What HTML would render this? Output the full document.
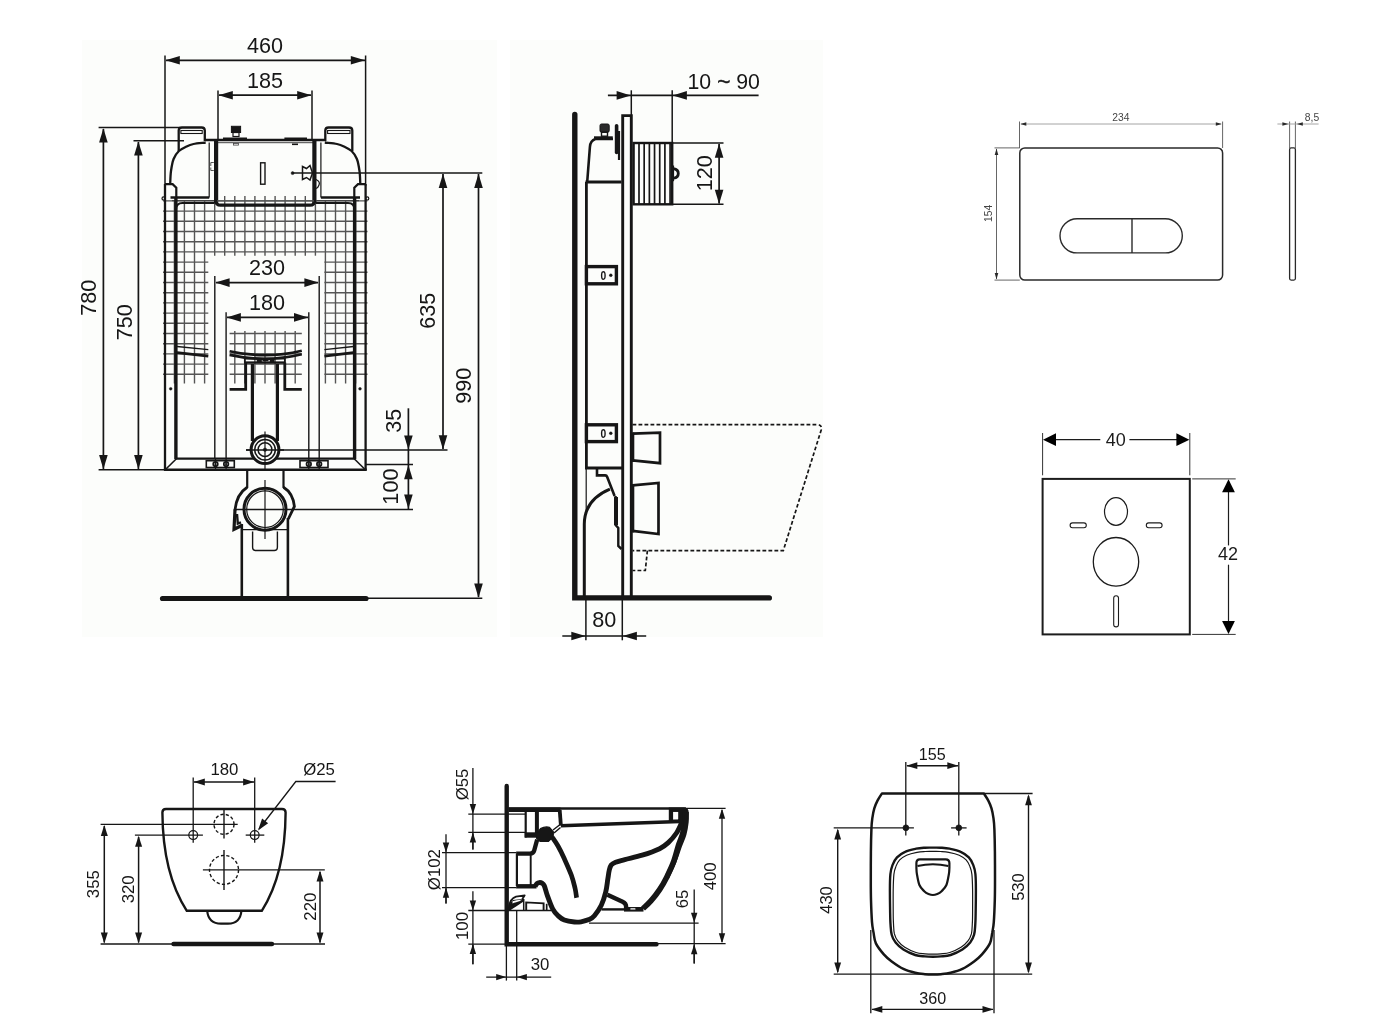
<!DOCTYPE html>
<html><head><meta charset="utf-8"><title>Technical drawing</title>
<style>
html,body{margin:0;padding:0;background:#fff;}
svg{display:block;font-family:"Liberation Sans",sans-serif;will-change:transform;}
</style></head><body>
<svg width="1400" height="1034" viewBox="0 0 1400 1034">
<rect x="0" y="0" width="1400" height="1034" fill="#ffffff"/>
<rect x="82" y="40" width="415" height="597" fill="#fcfdfb"/>
<rect x="510" y="40" width="313" height="597" fill="#fcfdfb"/>
<g stroke="#555" stroke-width="1.4" fill="none">
<path d="M174.4,200V383.5"/>
<path d="M184.4,200V383.5"/>
<path d="M194.5,200V383.5"/>
<path d="M204.6,200V383.5"/>
<path d="M214.7,200V255.7"/>
<path d="M224.7,196V255.7"/>
<path d="M234.8,196V255.7"/>
<path d="M234.8,331V383.5"/>
<path d="M244.9,196V255.7"/>
<path d="M244.9,331V383.5"/>
<path d="M254.9,196V255.7"/>
<path d="M254.9,331V383.5"/>
<path d="M265.0,196V255.7"/>
<path d="M265.0,331V383.5"/>
<path d="M275.1,196V255.7"/>
<path d="M275.1,331V383.5"/>
<path d="M285.1,196V255.7"/>
<path d="M285.1,331V383.5"/>
<path d="M295.2,196V255.7"/>
<path d="M295.2,331V383.5"/>
<path d="M305.3,196V255.7"/>
<path d="M315.4,200V255.7"/>
<path d="M325.4,200V383.5"/>
<path d="M335.5,200V383.5"/>
<path d="M345.6,200V383.5"/>
<path d="M355.6,200V383.5"/>
<path d="M163,200.9H367.5"/>
<path d="M163,211.1H367.5"/>
<path d="M163,221.3H367.5"/>
<path d="M163,231.5H367.5"/>
<path d="M163,241.7H367.5"/>
<path d="M163,251.9H367.5"/>
<path d="M163,262.1H208.3"/>
<path d="M324.4,262.1H367.5"/>
<path d="M163,272.3H208.3"/>
<path d="M324.4,272.3H367.5"/>
<path d="M163,282.5H208.3"/>
<path d="M324.4,282.5H367.5"/>
<path d="M163,292.7H208.3"/>
<path d="M324.4,292.7H367.5"/>
<path d="M163,302.9H208.3"/>
<path d="M324.4,302.9H367.5"/>
<path d="M163,313.1H208.3"/>
<path d="M324.4,313.1H367.5"/>
<path d="M163,323.3H208.3"/>
<path d="M324.4,323.3H367.5"/>
<path d="M163,333.5H208.3"/>
<path d="M324.4,333.5H367.5"/>
<path d="M229.6,333.5H301.8"/>
<path d="M163,343.7H208.3"/>
<path d="M324.4,343.7H367.5"/>
<path d="M229.6,343.7H301.8"/>
<path d="M163,353.9H208.3"/>
<path d="M324.4,353.9H367.5"/>
<path d="M229.6,353.9H301.8"/>
<path d="M163,364.1H208.3"/>
<path d="M324.4,364.1H367.5"/>
<path d="M229.6,364.1H301.8"/>
<path d="M163,374.3H208.3"/>
<path d="M324.4,374.3H367.5"/>
<path d="M229.6,374.3H301.8"/>
</g>
<line x1="165" y1="55.5" x2="165" y2="186" stroke="#161616" stroke-width="1.5" />
<line x1="365.6" y1="55.5" x2="365.6" y2="186" stroke="#161616" stroke-width="1.5" />
<line x1="166" y1="60.3" x2="365" y2="60.3" stroke="#161616" stroke-width="1.7" />
<polygon points="165.6,60.3 179.8,56.0 179.8,64.6" fill="#161616"/>
<polygon points="365.0,60.3 350.8,56.0 350.8,64.6" fill="#161616"/>
<text x="265" y="53.2" font-size="21.6" text-anchor="middle" fill="#161616" >460</text>
<line x1="218" y1="90.6" x2="218" y2="141" stroke="#161616" stroke-width="1.5" />
<line x1="312" y1="90.6" x2="312" y2="141" stroke="#161616" stroke-width="1.5" />
<line x1="219" y1="95.2" x2="311" y2="95.2" stroke="#161616" stroke-width="1.7" />
<polygon points="218.6,95.2 232.8,90.9 232.8,99.5" fill="#161616"/>
<polygon points="311.4,95.2 297.2,90.9 297.2,99.5" fill="#161616"/>
<text x="265" y="87.9" font-size="21.6" text-anchor="middle" fill="#161616" >185</text>
<line x1="98.6" y1="127.6" x2="180" y2="127.6" stroke="#161616" stroke-width="1.5" />
<line x1="133.5" y1="140.8" x2="184" y2="140.8" stroke="#161616" stroke-width="1.5" />
<line x1="103.4" y1="129" x2="103.4" y2="469" stroke="#161616" stroke-width="1.7" />
<polygon points="103.4,128.2 99.1,142.4 107.7,142.4" fill="#161616"/>
<polygon points="103.4,469.2 99.1,455.0 107.7,455.0" fill="#161616"/>
<line x1="138.4" y1="142" x2="138.4" y2="469" stroke="#161616" stroke-width="1.7" />
<polygon points="138.4,141.4 134.1,155.6 142.7,155.6" fill="#161616"/>
<polygon points="138.4,469.2 134.1,455.0 142.7,455.0" fill="#161616"/>
<line x1="98.6" y1="469.8" x2="166" y2="469.8" stroke="#161616" stroke-width="1.5" />
<text x="96.4" y="297.7" font-size="21.6" text-anchor="middle" fill="#161616" transform="rotate(-90 96.4 297.7)" >780</text>
<text x="131.6" y="322.3" font-size="21.6" text-anchor="middle" fill="#161616" transform="rotate(-90 131.6 322.3)" >750</text>
<line x1="292.6" y1="173.1" x2="482.3" y2="173.1" stroke="#161616" stroke-width="1.5" />
<circle cx="292.6" cy="173.1" r="1.5" stroke="#161616" stroke-width="0.5" fill="#161616" />
<line x1="443" y1="174" x2="443" y2="449" stroke="#161616" stroke-width="1.7" />
<polygon points="443.0,173.7 438.7,187.9 447.3,187.9" fill="#161616"/>
<polygon points="443.0,449.4 438.7,435.2 447.3,435.2" fill="#161616"/>
<line x1="478.5" y1="174" x2="478.5" y2="597" stroke="#161616" stroke-width="1.7" />
<polygon points="478.5,173.7 474.2,187.9 482.8,187.9" fill="#161616"/>
<polygon points="478.5,597.7 474.2,583.5 482.8,583.5" fill="#161616"/>
<text x="435.5" y="310.8" font-size="21.6" text-anchor="middle" fill="#161616" transform="rotate(-90 435.5 310.8)" >635</text>
<text x="471" y="385.7" font-size="21.6" text-anchor="middle" fill="#161616" transform="rotate(-90 471 385.7)" >990</text>
<line x1="246" y1="450" x2="447.5" y2="450" stroke="#161616" stroke-width="1.5" />
<line x1="366" y1="598.3" x2="482.3" y2="598.3" stroke="#161616" stroke-width="1.5" />
<line x1="408.4" y1="408.3" x2="408.4" y2="509.4" stroke="#161616" stroke-width="1.7" />
<polygon points="408.4,449.6 404.1,435.4 412.7,435.4" fill="#161616"/>
<polygon points="408.4,465.0 404.1,479.2 412.7,479.2" fill="#161616"/>
<polygon points="408.4,508.8 404.1,494.6 412.7,494.6" fill="#161616"/>
<line x1="366" y1="464.4" x2="413" y2="464.4" stroke="#161616" stroke-width="1.5" />
<line x1="234.8" y1="509.4" x2="413" y2="509.4" stroke="#161616" stroke-width="1.5" />
<text x="400.6" y="420.7" font-size="21.6" text-anchor="middle" fill="#161616" transform="rotate(-90 400.6 420.7)" >35</text>
<text x="398.2" y="486.6" font-size="21.6" text-anchor="middle" fill="#161616" transform="rotate(-90 398.2 486.6)" >100</text>
<path d="M178.7,151V130.6Q178.7,127.5 181.9,127.5H201.6Q204.8,127.5 204.8,130.6V141" stroke="#161616" stroke-width="2.3" fill="none" />
<rect x="180.9" y="130.5" width="21.3" height="3" rx="0" stroke="#161616" stroke-width="1.1" fill="none" />
<path d="M352.3,151V130.6Q352.3,127.5 349.1,127.5H328.5Q325.3,127.5 325.3,130.6V141" stroke="#161616" stroke-width="2.3" fill="none" />
<rect x="327.6" y="130.5" width="22.4" height="3" rx="0" stroke="#161616" stroke-width="1.1" fill="none" />
<line x1="205" y1="140" x2="326" y2="140" stroke="#161616" stroke-width="2.3" />
<line x1="216" y1="142.7" x2="314" y2="142.7" stroke="#444" stroke-width="1.0" />
<line x1="284.4" y1="138.6" x2="307" y2="138.6" stroke="#161616" stroke-width="2.2" />
<line x1="292" y1="144.3" x2="298" y2="144.3" stroke="#161616" stroke-width="1.6" />
<path d="M205.7,142.5C203.7,142.8 196.7,143.3 193.5,144.0C190.3,144.7 189.0,145.3 186.6,146.5C184.2,147.7 181.1,148.9 178.9,151.0C176.7,153.1 174.9,155.7 173.6,159.0C172.3,162.3 171.6,166.8 171.0,171.0C170.4,175.2 170.3,181.8 170.2,184.0" stroke="#161616" stroke-width="2.3" fill="none" />
<path d="M324.8,142.5C326.8,142.8 333.8,143.3 337.0,144.0C340.2,144.7 341.5,145.3 343.9,146.5C346.3,147.7 349.4,148.9 351.6,151.0C353.8,153.1 355.6,155.7 356.9,159.0C358.2,162.3 358.9,166.8 359.5,171.0C360.1,175.2 360.2,181.8 360.3,184.0" stroke="#161616" stroke-width="2.3" fill="none" />
<path d="M165,184.2H172.6L176.3,187.8V197" stroke="#161616" stroke-width="2.2" fill="none" />
<path d="M365.6,184.2H358L354.3,187.8V197" stroke="#161616" stroke-width="2.2" fill="none" />
<line x1="170.5" y1="197.5" x2="209.2" y2="197.5" stroke="#161616" stroke-width="2.4" />
<line x1="320.9" y1="197.5" x2="360" y2="197.5" stroke="#161616" stroke-width="2.4" />
<circle cx="163.6" cy="198.4" r="1.6" stroke="#161616" stroke-width="1.2" fill="none" />
<circle cx="367.2" cy="198.4" r="1.6" stroke="#161616" stroke-width="1.2" fill="none" />
<line x1="209.2" y1="142.5" x2="209.2" y2="197.5" stroke="#161616" stroke-width="1.2" />
<line x1="320.9" y1="142.5" x2="320.9" y2="197.5" stroke="#161616" stroke-width="1.2" />
<line x1="216.1" y1="140" x2="216.1" y2="203" stroke="#161616" stroke-width="4.2" />
<line x1="314.4" y1="140" x2="314.4" y2="203" stroke="#161616" stroke-width="4.2" />
<path d="M216.1,201Q216.1,205.2 220.5,205.2H310Q314.4,205.2 314.4,201" stroke="#161616" stroke-width="3.2" fill="none" />
<line x1="217" y1="200.9" x2="314" y2="200.9" stroke="#555" stroke-width="1.2" />
<path d="M175.9,210Q175.9,203 182.5,203H214.5" stroke="#161616" stroke-width="2.2" fill="none" />
<path d="M354.6,210Q354.6,203 348,203H316" stroke="#161616" stroke-width="2.2" fill="none" />
<line x1="172" y1="200.6" x2="214" y2="200.6" stroke="#444" stroke-width="1.2" />
<line x1="316" y1="200.6" x2="359" y2="200.6" stroke="#444" stroke-width="1.2" />
<line x1="165" y1="184" x2="165" y2="470" stroke="#161616" stroke-width="2.3" />
<line x1="365.6" y1="184" x2="365.6" y2="470" stroke="#161616" stroke-width="2.3" />
<line x1="175.9" y1="197" x2="175.9" y2="459" stroke="#161616" stroke-width="3.4" />
<line x1="354.6" y1="197" x2="354.6" y2="459" stroke="#161616" stroke-width="3.4" />
<line x1="175" y1="458.7" x2="355.5" y2="458.7" stroke="#161616" stroke-width="2.3" />
<line x1="163.9" y1="469.8" x2="366.8" y2="469.8" stroke="#161616" stroke-width="2.6" />
<line x1="176.4" y1="458.7" x2="166" y2="469" stroke="#161616" stroke-width="1.6" />
<line x1="354.2" y1="458.7" x2="364.6" y2="469" stroke="#161616" stroke-width="1.6" />
<rect x="206.3" y="460.7" width="28" height="6.8" rx="0" stroke="#161616" stroke-width="1.6" fill="none" />
<circle cx="215.5" cy="464.1" r="2.3" stroke="#161616" stroke-width="1.7" fill="none" />
<circle cx="215.5" cy="464.1" r="0.9" stroke="#161616" stroke-width="0.4" fill="#161616" />
<line x1="215.5" y1="459" x2="215.5" y2="471" stroke="#161616" stroke-width="1.2" />
<circle cx="226.1" cy="464.1" r="2.3" stroke="#161616" stroke-width="1.7" fill="none" />
<circle cx="226.1" cy="464.1" r="0.9" stroke="#161616" stroke-width="0.4" fill="#161616" />
<line x1="226.1" y1="459" x2="226.1" y2="471" stroke="#161616" stroke-width="1.2" />
<rect x="300" y="460.7" width="28" height="6.8" rx="0" stroke="#161616" stroke-width="1.6" fill="none" />
<circle cx="308.8" cy="464.1" r="2.3" stroke="#161616" stroke-width="1.7" fill="none" />
<circle cx="308.8" cy="464.1" r="0.9" stroke="#161616" stroke-width="0.4" fill="#161616" />
<line x1="308.8" y1="459" x2="308.8" y2="471" stroke="#161616" stroke-width="1.2" />
<circle cx="319.2" cy="464.1" r="2.3" stroke="#161616" stroke-width="1.7" fill="none" />
<circle cx="319.2" cy="464.1" r="0.9" stroke="#161616" stroke-width="0.4" fill="#161616" />
<line x1="319.2" y1="459" x2="319.2" y2="471" stroke="#161616" stroke-width="1.2" />
<line x1="214.8" y1="276.1" x2="214.8" y2="459" stroke="#161616" stroke-width="1.4" />
<line x1="319.2" y1="276.1" x2="319.2" y2="459" stroke="#161616" stroke-width="1.4" />
<line x1="226.1" y1="312.2" x2="226.1" y2="459" stroke="#161616" stroke-width="1.4" />
<line x1="308.8" y1="312.2" x2="308.8" y2="459" stroke="#161616" stroke-width="1.4" />
<line x1="216" y1="282.6" x2="318" y2="282.6" stroke="#161616" stroke-width="1.7" />
<polygon points="215.4,282.6 229.6,278.3 229.6,286.9" fill="#161616"/>
<polygon points="318.6,282.6 304.4,278.3 304.4,286.9" fill="#161616"/>
<line x1="227" y1="317.4" x2="308" y2="317.4" stroke="#161616" stroke-width="1.7" />
<polygon points="226.7,317.4 240.9,313.1 240.9,321.7" fill="#161616"/>
<polygon points="308.2,317.4 294.0,313.1 294.0,321.7" fill="#161616"/>
<text x="267" y="274.5" font-size="21.6" text-anchor="middle" fill="#161616" >230</text>
<text x="267" y="309.8" font-size="21.6" text-anchor="middle" fill="#161616" >180</text>
<rect x="260.6" y="162.8" width="4.4" height="21.4" rx="0" stroke="#161616" stroke-width="1.4" fill="none" />
<rect x="231.4" y="126.3" width="9.2" height="6.2" rx="0" stroke="#161616" stroke-width="1.0" fill="#161616" />
<rect x="233" y="132.5" width="6" height="4" rx="0" stroke="#161616" stroke-width="1.2" fill="none" />
<line x1="223" y1="138.6" x2="247" y2="138.6" stroke="#161616" stroke-width="2.2" />
<rect x="233.5" y="143.5" width="5" height="1.6" rx="0" stroke="#444" stroke-width="0.8" fill="none" />
<path d="M302.5,166.5L306.5,168.5L310,165.5L312.5,173L310,180L306.5,177.5L302.5,179.5Z" stroke="#161616" stroke-width="1.5" fill="none" />
<path d="M316,179.5Q320.5,181.5 319,185Q318,188 316,188.5" stroke="#161616" stroke-width="1.2" fill="none" />
<path d="M213.8,162.5H210.8V166M213.8,170.5H210.8V167.5" stroke="#555" stroke-width="1.0" fill="none" />
<line x1="177" y1="346.5" x2="208.3" y2="349.6" stroke="#161616" stroke-width="1.4" />
<line x1="177" y1="352.6" x2="208.3" y2="356.1" stroke="#161616" stroke-width="2.6" />
<line x1="353.5" y1="346.5" x2="324.4" y2="349.6" stroke="#161616" stroke-width="1.4" />
<line x1="353.5" y1="352.6" x2="324.4" y2="356.1" stroke="#161616" stroke-width="2.6" />
<circle cx="170.7" cy="388.8" r="1.4" stroke="#161616" stroke-width="0.4" fill="#161616" />
<circle cx="360" cy="388.8" r="1.4" stroke="#161616" stroke-width="0.4" fill="#161616" />
<path d="M229.6,351.2Q265.5,359.4 301.8,350.7" stroke="#161616" stroke-width="2.7" fill="none" />
<path d="M229.6,354.9Q265.5,363 301.8,354.3" stroke="#161616" stroke-width="2.7" fill="none" />
<rect x="244.8" y="358.6" width="40" height="4" rx="0" stroke="#161616" stroke-width="1.7" fill="none" />
<rect x="256.8" y="358.4" width="5" height="4.2" rx="0" stroke="#161616" stroke-width="0.1" fill="#161616" />
<rect x="269.8" y="358.4" width="4.6" height="4.2" rx="0" stroke="#161616" stroke-width="0.1" fill="#161616" />
<line x1="262.5" y1="360.6" x2="268.5" y2="360.6" stroke="#161616" stroke-width="1.4" />
<line x1="244.8" y1="362.4" x2="284.8" y2="362.4" stroke="#161616" stroke-width="2.0" />
<path d="M245.7,362.6V389.3H229.6" stroke="#161616" stroke-width="2.8" fill="none" />
<path d="M284.8,362.6V389.3H301.8" stroke="#161616" stroke-width="2.8" fill="none" />
<line x1="252.4" y1="364" x2="252.4" y2="441" stroke="#161616" stroke-width="3.2" />
<line x1="277.4" y1="364" x2="277.4" y2="441" stroke="#161616" stroke-width="3.2" />
<circle cx="265" cy="449.7" r="13.9" stroke="#161616" stroke-width="3.0" fill="#fcfdfb" />
<circle cx="265" cy="449.7" r="10.3" stroke="#161616" stroke-width="1.5" fill="none" />
<circle cx="265" cy="449.7" r="6.9" stroke="#161616" stroke-width="1.5" fill="none" />
<circle cx="265" cy="449.7" r="1.8" stroke="#161616" stroke-width="0.4" fill="#161616" />
<line x1="265" y1="431.5" x2="265" y2="469" stroke="#161616" stroke-width="1.2" />
<line x1="246" y1="450" x2="284" y2="450" stroke="#161616" stroke-width="1.5" />
<line x1="247.2" y1="470" x2="247.2" y2="488" stroke="#161616" stroke-width="2.2" />
<line x1="283.5" y1="470" x2="283.5" y2="488" stroke="#161616" stroke-width="2.2" />
<circle cx="265" cy="509.2" r="21" stroke="#161616" stroke-width="3.0" fill="none" />
<circle cx="265" cy="509.2" r="18.3" stroke="#161616" stroke-width="1.2" fill="none" />
<path d="M247.2,487.2Q236.5,494 234.9,510.5" stroke="#161616" stroke-width="2.8" fill="none" />
<path d="M283.5,487.2Q293,493 294.4,506.4L288.3,519" stroke="#161616" stroke-width="2.8" fill="none" />
<path d="M235,509.5L234,529.3L242.3,525.2" stroke="#161616" stroke-width="3.2" fill="none" />
<path d="M237,514L237.8,523.6L241,522.3" stroke="#161616" stroke-width="2.4" fill="none" />
<line x1="265" y1="480" x2="265" y2="539" stroke="#161616" stroke-width="1.2" />
<line x1="241.8" y1="524" x2="241.8" y2="597" stroke="#161616" stroke-width="2.6" />
<line x1="287.9" y1="518" x2="287.9" y2="597" stroke="#161616" stroke-width="2.6" />
<line x1="242" y1="529.6" x2="288" y2="529.6" stroke="#161616" stroke-width="1.2" />
<path d="M252.6,531.5V547.3Q252.6,550.5 255.8,550.5H274.2Q277.4,550.5 277.4,547.3V531.5" stroke="#161616" stroke-width="1.4" fill="none" />
<line x1="162.5" y1="598.5" x2="366" y2="598.5" stroke="#161616" stroke-width="5.2" stroke-linecap="round"/>
<path d="M574.8,114.5V597.9H769.3" stroke="#161616" stroke-width="5.4" fill="none" stroke-linecap="round" stroke-linejoin="miter"/>
<path d="M622.7,597V115.6H631.3V597" stroke="#161616" stroke-width="2.9" fill="none" />
<line x1="631.3" y1="90.3" x2="631.3" y2="116" stroke="#161616" stroke-width="1.5" />
<line x1="672.2" y1="90.3" x2="672.2" y2="143" stroke="#161616" stroke-width="1.5" />
<line x1="607.9" y1="95.4" x2="758.6" y2="95.4" stroke="#161616" stroke-width="1.7" />
<polygon points="630.8,95.4 616.6,91.1 616.6,99.7" fill="#161616"/>
<polygon points="672.7,95.4 686.9,91.1 686.9,99.7" fill="#161616"/>
<text x="723.7" y="88.6" font-size="21.3" text-anchor="middle" fill="#161616" >10 <tspan font-size="22.5" dy="0.6" stroke="#161616" stroke-width="0.5">~</tspan><tspan dy="-0.6"> 90</tspan></text>
<rect x="633.6" y="143" width="38.6" height="61.3" rx="0" stroke="#161616" stroke-width="2.4" fill="none" />
<line x1="639.0" y1="143" x2="639.0" y2="204.3" stroke="#161616" stroke-width="1.7" />
<line x1="644.18" y1="143" x2="644.18" y2="204.3" stroke="#161616" stroke-width="1.7" />
<line x1="649.36" y1="143" x2="649.36" y2="204.3" stroke="#161616" stroke-width="1.7" />
<line x1="654.54" y1="143" x2="654.54" y2="204.3" stroke="#161616" stroke-width="1.7" />
<line x1="659.72" y1="143" x2="659.72" y2="204.3" stroke="#161616" stroke-width="1.7" />
<line x1="664.9" y1="143" x2="664.9" y2="204.3" stroke="#161616" stroke-width="1.7" />
<line x1="670.08" y1="143" x2="670.08" y2="204.3" stroke="#161616" stroke-width="1.7" />
<path d="M672.8,165.5V181.2" stroke="#161616" stroke-width="2.6" fill="none" />
<path d="M673.5,168.6Q678.3,169.4 678.3,173.4Q678.3,177.4 673.5,178.2" stroke="#161616" stroke-width="2.8" fill="none" />
<line x1="672" y1="143" x2="723.5" y2="143" stroke="#161616" stroke-width="1.5" />
<line x1="672" y1="204.3" x2="723.5" y2="204.3" stroke="#161616" stroke-width="1.5" />
<line x1="719.1" y1="144" x2="719.1" y2="203.5" stroke="#161616" stroke-width="1.7" />
<polygon points="719.1,143.5 714.8,157.7 723.4,157.7" fill="#161616"/>
<polygon points="719.1,203.9 714.8,189.7 723.4,189.7" fill="#161616"/>
<text x="711.9" y="173.3" font-size="21.6" text-anchor="middle" fill="#161616" transform="rotate(-90 711.9 173.3)" >120</text>
<path d="M587.2,182L589.9,147Q590.4,140.5 595.4,139H613" stroke="#161616" stroke-width="2.6" fill="none" />
<line x1="585.5" y1="182" x2="621.5" y2="182" stroke="#161616" stroke-width="2.8" />
<line x1="594" y1="137.3" x2="612.8" y2="137.3" stroke="#161616" stroke-width="2.0" />
<rect x="600" y="124" width="9.2" height="8.2" rx="1.5" stroke="#161616" stroke-width="1.0" fill="#2a2a2a" />
<rect x="601.5" y="132.2" width="6" height="4" rx="0" stroke="#161616" stroke-width="1.4" fill="none" />
<path d="M616.6,125.8V152.5" stroke="#161616" stroke-width="3.6" fill="none" stroke-linecap="round"/>
<line x1="619" y1="131" x2="619" y2="160" stroke="#161616" stroke-width="2.2" />
<line x1="586.4" y1="182" x2="586.4" y2="468" stroke="#161616" stroke-width="2.8" />
<line x1="586.2" y1="468" x2="586.2" y2="512" stroke="#161616" stroke-width="1.2" />
<rect x="586.4" y="266.6" width="30" height="17.19999999999999" rx="0" stroke="#161616" stroke-width="3.4" fill="none" />
<text transform="translate(603.3 279.5) scale(0.86 1)" font-size="12" font-weight="700" text-anchor="middle" fill="#161616">0</text>
<circle cx="610.8" cy="275.20000000000005" r="1.5" stroke="#161616" stroke-width="0.3" fill="#161616" />
<rect x="586.4" y="424.8" width="30" height="16.80000000000001" rx="0" stroke="#161616" stroke-width="3.4" fill="none" />
<text transform="translate(603.3 437.5) scale(0.86 1)" font-size="12" font-weight="700" text-anchor="middle" fill="#161616">0</text>
<circle cx="610.8" cy="433.20000000000005" r="1.5" stroke="#161616" stroke-width="0.3" fill="#161616" />
<line x1="585" y1="468" x2="622.7" y2="468" stroke="#161616" stroke-width="3.0" />
<path d="M597,468V475.4H605.2Q606.6,475.4 607.2,477L614.6,496" stroke="#161616" stroke-width="2.6" fill="none" />
<path d="M615.6,496V525L618.3,528V546L621.5,549" stroke="#161616" stroke-width="2.4" fill="none" />
<line x1="616" y1="497" x2="616" y2="525" stroke="#161616" stroke-width="4.0" />
<path d="M609.9,489.2C596,495 584.5,506 584.3,524V597" stroke="#161616" stroke-width="3.0" fill="none" />
<path d="M632.5,433.6L660,432.6V463.2L632.5,460.4" stroke="#161616" stroke-width="2.7" fill="none" />
<path d="M632.5,485.3L658.5,483V534L632.5,530.8" stroke="#161616" stroke-width="2.7" fill="none" />
<line x1="632.6" y1="432.5" x2="632.6" y2="462" stroke="#161616" stroke-width="3.4" />
<line x1="632.6" y1="484" x2="632.6" y2="532.5" stroke="#161616" stroke-width="3.4" />
<path d="M632.5,424.7H817Q822.5,424.7 821.2,430L783.3,550.6H632.5" stroke="#161616" stroke-width="1.7" fill="none" stroke-dasharray="3.8 2.2"/>
<path d="M647.4,550.6L645.3,570.5H632.5" stroke="#161616" stroke-width="1.7" fill="none" stroke-dasharray="3.8 2.2"/>
<line x1="585.9" y1="600" x2="585.9" y2="640.3" stroke="#161616" stroke-width="1.5" />
<line x1="622.3" y1="600" x2="622.3" y2="640.3" stroke="#161616" stroke-width="1.5" />
<line x1="562.3" y1="636" x2="646.2" y2="636" stroke="#161616" stroke-width="1.7" />
<polygon points="585.5,636.0 571.3,631.7 571.3,640.3" fill="#161616"/>
<polygon points="622.7,636.0 636.9,631.7 636.9,640.3" fill="#161616"/>
<text x="604.2" y="627.3" font-size="21.6" text-anchor="middle" fill="#161616" >80</text>
<rect x="1019.8" y="147.9" width="202.8" height="132.2" rx="5" stroke="#2a2a2a" stroke-width="1.5" fill="none" />
<rect x="1060" y="218.7" width="122.3" height="34.2" rx="17.1" stroke="#2a2a2a" stroke-width="1.4" fill="none" />
<line x1="1132" y1="218.7" x2="1132" y2="252.9" stroke="#2a2a2a" stroke-width="1.4" />
<line x1="1019.5" y1="121.5" x2="1019.5" y2="148" stroke="#555" stroke-width="0.9" />
<line x1="1222.6" y1="121.5" x2="1222.6" y2="148" stroke="#555" stroke-width="0.9" />
<line x1="1021" y1="124" x2="1221" y2="124" stroke="#9a9a9a" stroke-width="0.9" />
<polygon points="1020.3,124.0 1026.3,122.2 1026.3,125.8" fill="#2a2a2a"/>
<polygon points="1221.8,124.0 1215.8,122.2 1215.8,125.8" fill="#2a2a2a"/>
<text x="1120.9" y="120.6" font-size="10.3" text-anchor="middle" fill="#444" >234</text>
<line x1="994.5" y1="147.9" x2="1019.8" y2="147.9" stroke="#555" stroke-width="0.9" />
<line x1="994.5" y1="280.1" x2="1019.8" y2="280.1" stroke="#555" stroke-width="0.9" />
<line x1="996.5" y1="149" x2="996.5" y2="279" stroke="#555" stroke-width="0.9" />
<polygon points="996.5,148.6 994.7,155.0 998.3,155.0" fill="#2a2a2a"/>
<polygon points="996.5,279.4 994.7,273.0 998.3,273.0" fill="#2a2a2a"/>
<text x="992.3" y="213.4" font-size="10.3" text-anchor="middle" fill="#444" transform="rotate(-90 992.3 213.4)" >154</text>
<rect x="1289.6" y="147.9" width="5.8" height="132.2" rx="1.5" stroke="#2a2a2a" stroke-width="1.3" fill="none" />
<line x1="1289.6" y1="121.5" x2="1289.6" y2="148" stroke="#555" stroke-width="0.9" />
<line x1="1295.4" y1="121.5" x2="1295.4" y2="148" stroke="#555" stroke-width="0.9" />
<line x1="1277.4" y1="124" x2="1318.6" y2="124" stroke="#9a9a9a" stroke-width="0.9" />
<polygon points="1288.4,124.0 1282.4,122.2 1282.4,125.8" fill="#2a2a2a"/>
<polygon points="1296.8,124.0 1302.8,122.2 1302.8,125.8" fill="#2a2a2a"/>
<text x="1312" y="120.6" font-size="10.3" text-anchor="middle" fill="#444" >8,5</text>
<rect x="1042.6" y="478.9" width="147.2" height="155.5" rx="0" stroke="#1c1c1c" stroke-width="2.0" fill="none" />
<line x1="1042.6" y1="433" x2="1042.6" y2="475.3" stroke="#333" stroke-width="1.0" />
<line x1="1189.8" y1="433" x2="1189.8" y2="475.3" stroke="#333" stroke-width="1.0" />
<line x1="1055" y1="439.7" x2="1100.3" y2="439.7" stroke="#1c1c1c" stroke-width="1.2" />
<line x1="1129.4" y1="439.7" x2="1177" y2="439.7" stroke="#1c1c1c" stroke-width="1.2" />
<polygon points="1043.0,439.7 1056.0,433.3 1056.0,446.1" fill="#000"/>
<polygon points="1189.4,439.7 1176.4,433.3 1176.4,446.1" fill="#000"/>
<text x="1115.7" y="446.3" font-size="18" text-anchor="middle" fill="#1c1c1c" >40</text>
<line x1="1192.2" y1="478.9" x2="1235.7" y2="478.9" stroke="#333" stroke-width="1.0" />
<line x1="1192.2" y1="634.4" x2="1235.7" y2="634.4" stroke="#333" stroke-width="1.0" />
<line x1="1228.5" y1="491" x2="1228.5" y2="545.4" stroke="#1c1c1c" stroke-width="1.2" />
<line x1="1228.5" y1="564.7" x2="1228.5" y2="622" stroke="#1c1c1c" stroke-width="1.2" />
<polygon points="1228.5,479.3 1222.1,492.3 1234.9,492.3" fill="#000"/>
<polygon points="1228.5,634.0 1222.1,621.0 1234.9,621.0" fill="#000"/>
<text x="1228" y="560.4" font-size="18" text-anchor="middle" fill="#1c1c1c" >42</text>
<ellipse cx="1116" cy="511.5" rx="11.5" ry="13.8" fill="none" stroke="#1c1c1c" stroke-width="1.2"/>
<ellipse cx="1116" cy="561.8" rx="22.7" ry="24.3" fill="none" stroke="#1c1c1c" stroke-width="1.3"/>
<rect x="1070.1" y="522.9" width="16.2" height="4.8" rx="2.4" stroke="#1c1c1c" stroke-width="1.1" fill="none" />
<rect x="1146.3" y="522.9" width="15.8" height="4.8" rx="2.4" stroke="#1c1c1c" stroke-width="1.1" fill="none" />
<rect x="1113.7" y="595.7" width="4.8" height="31.2" rx="2.4" stroke="#1c1c1c" stroke-width="1.1" fill="none" />
<path d="M166,809H282Q285.6,809 285.6,812.6C285.4,850 278.4,885 261.8,910.8H186.8C170,885 162.6,850 162.4,812.6Q162.4,809 166,809Z" stroke="#161616" stroke-width="2.4" fill="none" />
<path d="M207.2,911Q208.5,923.6 221,923.6H228Q240.2,923.6 241.4,911" stroke="#161616" stroke-width="2.2" fill="none" />
<line x1="173.5" y1="944" x2="272" y2="944" stroke="#161616" stroke-width="4.4" stroke-linecap="round"/>
<line x1="193.2" y1="777.5" x2="193.2" y2="842.7" stroke="#161616" stroke-width="1.3" />
<line x1="254.7" y1="777.5" x2="254.7" y2="842.7" stroke="#161616" stroke-width="1.3" />
<line x1="194" y1="782.1" x2="254" y2="782.1" stroke="#161616" stroke-width="1.5" />
<polygon points="193.8,782.1 204.8,778.6 204.8,785.6" fill="#161616"/>
<polygon points="254.1,782.1 243.1,778.6 243.1,785.6" fill="#161616"/>
<text x="224.4" y="774.6" font-size="16.8" text-anchor="middle" fill="#161616" >180</text>
<text x="319" y="774.6" font-size="16.8" text-anchor="middle" fill="#161616" >Ø25</text>
<path d="M335.6,781.5H295.8L259,829" stroke="#161616" stroke-width="1.3" fill="none" />
<polygon points="258,830.4 262.1,818.6 268.1,823.2" fill="#161616"/>
<line x1="100.6" y1="824.3" x2="237.7" y2="824.3" stroke="#161616" stroke-width="1.3" />
<line x1="100.6" y1="944" x2="325" y2="944" stroke="#161616" stroke-width="1.3" />
<line x1="104.3" y1="826" x2="104.3" y2="942.5" stroke="#161616" stroke-width="1.5" />
<polygon points="104.3,825.0 100.8,836.0 107.8,836.0" fill="#161616"/>
<polygon points="104.3,943.4 100.8,932.4 107.8,932.4" fill="#161616"/>
<text x="99.5" y="884.2" font-size="16.8" text-anchor="middle" fill="#161616" transform="rotate(-90 99.5 884.2)" >355</text>
<line x1="134.9" y1="835.1" x2="202.9" y2="835.1" stroke="#161616" stroke-width="1.3" />
<line x1="245.7" y1="835.1" x2="264.3" y2="835.1" stroke="#161616" stroke-width="1.3" />
<line x1="138.6" y1="837" x2="138.6" y2="942.5" stroke="#161616" stroke-width="1.5" />
<polygon points="138.6,835.8 135.1,846.8 142.1,846.8" fill="#161616"/>
<polygon points="138.6,943.4 135.1,932.4 142.1,932.4" fill="#161616"/>
<text x="134.3" y="889.3" font-size="16.8" text-anchor="middle" fill="#161616" transform="rotate(-90 134.3 889.3)" >320</text>
<line x1="202.9" y1="869.9" x2="324.8" y2="869.9" stroke="#161616" stroke-width="1.3" />
<line x1="320" y1="872" x2="320" y2="942.5" stroke="#161616" stroke-width="1.5" />
<polygon points="320.0,870.6 316.5,881.6 323.5,881.6" fill="#161616"/>
<polygon points="320.0,943.4 316.5,932.4 323.5,932.4" fill="#161616"/>
<text x="315.6" y="906.7" font-size="16.8" text-anchor="middle" fill="#161616" transform="rotate(-90 315.6 906.7)" >220</text>
<circle cx="224" cy="824.3" r="10" stroke="#161616" stroke-width="1.4" fill="none" stroke-dasharray="3.2 2.2"/>
<line x1="224" y1="810.1" x2="224" y2="838.4" stroke="#161616" stroke-width="1.4" />
<circle cx="224" cy="869.9" r="14.5" stroke="#161616" stroke-width="1.4" fill="none" stroke-dasharray="3.2 2.2"/>
<line x1="224" y1="850" x2="224" y2="889.9" stroke="#161616" stroke-width="1.4" />
<circle cx="193.2" cy="835.1" r="4.4" stroke="#161616" stroke-width="1.2" fill="none" />
<circle cx="254.7" cy="835.1" r="4.4" stroke="#161616" stroke-width="1.2" fill="none" />
<path d="M506.7,786V944.3H656.5" stroke="#161616" stroke-width="4.4" fill="none" stroke-linecap="round" stroke-linejoin="miter"/>
<line x1="508.6" y1="808.5" x2="686" y2="808.5" stroke="#161616" stroke-width="2.4" />
<line x1="508.6" y1="809.8" x2="560.5" y2="809.8" stroke="#161616" stroke-width="4.4" />
<path d="M668.8,807.4H684Q689,807.6 688.7,813L687.4,826L679.5,825L678.6,822.8H668.8Z" fill="#161616"/>
<rect x="673.1" y="812" width="5" height="7.5" rx="0" stroke="#fff" stroke-width="0.1" fill="#fff" />
<path d="M685.2,812.0C685.2,813.7 685.3,818.3 684.9,822.0C684.5,825.7 683.6,830.3 682.6,834.0C681.6,837.7 680.3,839.8 678.8,844.4C677.3,849.0 675.6,856.3 673.6,861.8C671.6,867.3 668.9,872.8 666.6,877.4C664.3,882.0 662.2,885.7 659.6,889.6C657.0,893.5 653.7,897.7 650.9,900.9C648.1,904.1 644.3,907.3 643.0,908.6" stroke="#161616" stroke-width="5.6" fill="none" stroke-linejoin="round" stroke-linecap="butt"/>
<path d="M686.4,812.0C686.4,813.7 686.7,818.3 686.3,822.0C685.9,825.7 685.2,830.0 684.1,834.0C683.0,838.0 681.3,841.4 679.6,846.0C677.9,850.6 676.1,856.6 674.0,861.8C671.9,867.0 668.0,874.8 666.8,877.4" stroke="#161616" stroke-width="4.8" fill="none" stroke-linejoin="round" stroke-linecap="butt"/>
<path d="M681.5,823.0C680.7,824.7 678.7,829.7 676.5,833.0C674.3,836.3 671.1,840.0 668.3,842.6C665.5,845.2 664.0,846.6 659.6,848.7C655.2,850.8 648.0,853.4 642.2,855.2C636.4,857.0 629.2,858.4 624.8,859.6C620.4,860.8 617.9,861.3 615.6,862.2C613.3,863.1 612.2,863.7 611.2,865.0C610.2,866.3 609.9,867.6 609.3,870.0C608.7,872.4 608.4,875.5 607.8,879.2C607.2,882.9 606.8,887.9 605.7,892.2C604.6,896.6 603.2,901.4 601.3,905.3C599.4,909.2 596.4,913.3 594.4,915.7C592.4,918.1 591.2,918.6 589.0,919.6C586.8,920.6 583.4,921.4 581.0,921.8C578.6,922.2 577.3,922.3 574.5,922.0C571.7,921.7 567.0,921.0 564.3,920.0C561.6,919.0 560.1,917.7 558.2,915.9C556.3,914.1 554.6,912.6 552.8,909.2C551.0,905.8 548.8,899.5 547.4,895.6C546.0,891.7 545.2,887.9 544.3,885.8C543.4,883.7 542.8,883.7 542.0,883.2C541.2,882.7 540.1,882.5 539.3,882.6C538.4,882.7 537.5,883.1 536.9,883.6C536.3,884.1 535.9,885.0 535.6,885.5C535.3,886.0 535.3,886.3 535.2,886.5" stroke="#161616" stroke-width="4.9" fill="none" stroke-linejoin="round" stroke-linecap="butt"/>
<line x1="516.2" y1="886.3" x2="536.5" y2="886.3" stroke="#161616" stroke-width="4.4" />
<path d="M552.1,837.0C553.1,838.5 556.0,842.5 558.0,846.0C560.0,849.5 561.8,853.1 564.0,858.0C566.2,862.9 569.6,870.3 571.4,875.3C573.2,880.3 574.1,884.3 575.0,888.0C575.9,891.7 576.3,896.1 576.6,897.7" stroke="#161616" stroke-width="4.7" fill="none" />
<path d="M560.9,825.7L679.5,821.6" stroke="#161616" stroke-width="3.5" fill="none" />
<path d="M559.7,809.9L560.9,825.7" stroke="#161616" stroke-width="3.8" fill="none" />
<path d="M536.8,833.5L540.5,828.6Q545,826.2 549.5,827.3L553.4,831.8L553.2,836.8L548.5,841.4H540L536.6,838.2Z" fill="#161616" stroke="#161616" stroke-width="1.2" stroke-linejoin="round"/>
<path d="M553,830L559.5,825M554,833L560.5,827.5" stroke="#161616" stroke-width="1.5" fill="none" />
<line x1="525.7" y1="811" x2="525.7" y2="837.5" stroke="#161616" stroke-width="2.2" />
<line x1="536.9" y1="811" x2="536.9" y2="835" stroke="#161616" stroke-width="4.0" />
<line x1="524.7" y1="835" x2="540" y2="835" stroke="#161616" stroke-width="5.4" />
<path d="M537.2,839.5L534.2,850.5Q533.4,853.6 530,853.6H516.2" stroke="#161616" stroke-width="4.4" fill="none" stroke-linejoin="round" stroke-linecap="butt"/>
<line x1="516.9" y1="853.6" x2="516.9" y2="886" stroke="#161616" stroke-width="2.2" />
<line x1="530.7" y1="855" x2="530.7" y2="885" stroke="#161616" stroke-width="1.9" />
<path d="M508.6,910C509,903 511.5,898 516,896.6L524.7,895.3L522.4,899L522.3,901.2C518,904.5 513,906.8 509.5,909.8Z" fill="none" stroke="#161616" stroke-width="1.8" stroke-linejoin="round"/>
<path d="M508.6,909.8C509,905 510.5,901.5 513,900C516,899.7 519,899.4 521.5,899.2L522,901.6C517,904.6 512,907.3 509.5,909.8Z" fill="#161616"/>
<path d="M512.5,901.2C515,900.4 518,900 520.5,900L520.8,900.8C517.5,901.8 514.5,902.6 512.5,903.4Z" fill="#fff"/>
<line x1="523.7" y1="899" x2="523.7" y2="910" stroke="#161616" stroke-width="1.5" />
<line x1="508.6" y1="910.5" x2="551" y2="910.5" stroke="#161616" stroke-width="1.7" />
<line x1="601.4" y1="909.4" x2="628" y2="909.4" stroke="#161616" stroke-width="2.4" />
<path d="M526.2,910V902.4L543.6,903.3V910" stroke="#161616" stroke-width="1.9" fill="none" />
<line x1="546.7" y1="903.8" x2="546.7" y2="910" stroke="#161616" stroke-width="1.7" />
<path d="M607.4,894.8L622.6,901.7Q626.1,903.3 626.1,906.5V909.5" stroke="#161616" stroke-width="4.4" fill="none" stroke-linejoin="round" stroke-linecap="butt"/>
<line x1="624" y1="909.3" x2="643.5" y2="909.3" stroke="#161616" stroke-width="4.6" />
<rect x="630.3" y="908.2" width="5.2" height="1.4" rx="0.7" stroke="#fff" stroke-width="0.1" fill="#fff" />
<line x1="472.9" y1="768.1" x2="472.9" y2="849.4" stroke="#161616" stroke-width="1.3" />
<polygon points="472.9,813.9 469.7,803.9 476.1,803.9" fill="#161616"/>
<line x1="472.9" y1="833.4" x2="472.9" y2="849.4" stroke="#161616" stroke-width="1.3" />
<polygon points="472.9,832.4 469.7,842.4 476.1,842.4" fill="#161616"/>
<line x1="468.3" y1="814.2" x2="525" y2="814.2" stroke="#161616" stroke-width="1.3" />
<line x1="468.3" y1="832.4" x2="525" y2="832.4" stroke="#161616" stroke-width="1.3" />
<text x="467.9" y="784.4" font-size="16.8" text-anchor="middle" fill="#161616" transform="rotate(-90 467.9 784.4)" >Ø55</text>
<line x1="446" y1="834.3" x2="446" y2="903.5" stroke="#161616" stroke-width="1.3" />
<polygon points="446.0,852.4 442.8,842.4 449.2,842.4" fill="#161616"/>
<line x1="446" y1="888.6" x2="446" y2="903.5" stroke="#161616" stroke-width="1.3" />
<polygon points="446.0,887.7 442.8,897.7 449.2,897.7" fill="#161616"/>
<line x1="442" y1="852.6" x2="516.4" y2="852.6" stroke="#161616" stroke-width="1.3" />
<line x1="442" y1="887.7" x2="516.4" y2="887.7" stroke="#161616" stroke-width="1.3" />
<text x="440" y="869.6" font-size="16.8" text-anchor="middle" fill="#161616" transform="rotate(-90 440 869.6)" >Ø102</text>
<line x1="472.9" y1="891.2" x2="472.9" y2="964.3" stroke="#161616" stroke-width="1.3" />
<polygon points="472.9,910.5 469.7,900.5 476.1,900.5" fill="#161616"/>
<line x1="472.9" y1="945" x2="472.9" y2="964.3" stroke="#161616" stroke-width="1.3" />
<polygon points="472.9,944.1 469.7,954.1 476.1,954.1" fill="#161616"/>
<line x1="468.3" y1="910.5" x2="509" y2="910.5" stroke="#161616" stroke-width="1.3" />
<line x1="468.3" y1="944.1" x2="507" y2="944.1" stroke="#161616" stroke-width="1.3" />
<text x="467.9" y="926" font-size="16.8" text-anchor="middle" fill="#161616" transform="rotate(-90 467.9 926)" >100</text>
<line x1="506.4" y1="946" x2="506.4" y2="980.6" stroke="#161616" stroke-width="1.3" />
<line x1="516.7" y1="911" x2="516.7" y2="980.6" stroke="#161616" stroke-width="1.3" />
<line x1="486.2" y1="977.1" x2="551.2" y2="977.1" stroke="#161616" stroke-width="1.3" />
<polygon points="506.2,977.1 496.2,973.9 496.2,980.3" fill="#161616"/>
<polygon points="516.9,977.1 526.9,973.9 526.9,980.3" fill="#161616"/>
<text x="540" y="970.1" font-size="16.8" text-anchor="middle" fill="#161616" >30</text>
<line x1="686" y1="808.3" x2="725.6" y2="808.3" stroke="#161616" stroke-width="1.3" />
<line x1="657" y1="943.7" x2="725.6" y2="943.7" stroke="#161616" stroke-width="1.3" />
<line x1="722" y1="810" x2="722" y2="942" stroke="#161616" stroke-width="1.3" />
<polygon points="722.0,808.8 718.8,818.8 725.2,818.8" fill="#161616"/>
<polygon points="722.0,943.3 718.8,933.3 725.2,933.3" fill="#161616"/>
<text x="715.9" y="876.3" font-size="16.8" text-anchor="middle" fill="#161616" transform="rotate(-90 715.9 876.3)" >400</text>
<line x1="589" y1="923.1" x2="698.6" y2="923.1" stroke="#161616" stroke-width="1.3" />
<line x1="694.2" y1="889.5" x2="694.2" y2="963.6" stroke="#161616" stroke-width="1.3" />
<polygon points="694.2,922.8 691.0,912.8 697.4,912.8" fill="#161616"/>
<line x1="694.2" y1="945.5" x2="694.2" y2="963.6" stroke="#161616" stroke-width="1.3" />
<polygon points="694.2,944.3 691.0,954.3 697.4,954.3" fill="#161616"/>
<text x="688.4" y="899" font-size="16.8" text-anchor="middle" fill="#161616" transform="rotate(-90 688.4 899)" >65</text>
<path d="M983.8,793.4C984.5,794.6 987.0,798.1 988.3,800.6C989.6,803.1 990.6,805.4 991.5,808.4C992.4,811.4 993.0,814.9 993.5,818.4C994.0,821.9 994.2,824.0 994.4,829.5C994.6,835.0 994.8,843.3 994.9,851.7C995.0,860.1 995.0,872.0 995.0,880.0C995.0,888.0 995.0,893.0 994.8,900.0C994.6,907.0 994.2,916.6 993.8,922.1C993.4,927.6 992.8,929.4 992.2,932.9C991.5,936.4 991.6,939.8 989.9,943.4C988.2,947.0 984.6,951.4 982.0,954.4C979.4,957.4 977.4,959.0 974.1,961.4C970.8,963.8 966.3,967.0 962.4,968.9C958.5,970.8 954.2,971.9 950.6,972.8C947.0,973.7 943.9,973.9 940.9,974.2C937.9,974.5 935.6,974.5 932.9,974.5C930.2,974.5 927.9,974.5 924.9,974.2C921.9,973.9 918.8,973.7 915.2,972.8C911.6,971.9 907.3,970.8 903.4,968.9C899.5,967.0 895.0,963.8 891.7,961.4C888.4,959.0 886.4,957.4 883.8,954.4C881.2,951.4 877.6,947.0 875.9,943.4C874.2,939.8 874.2,936.4 873.6,932.9C873.0,929.4 872.4,927.6 872.0,922.1C871.6,916.6 871.2,907.0 871.0,900.0C870.8,893.0 870.8,888.0 870.8,880.0C870.8,872.0 870.8,860.1 870.9,851.7C871.0,843.3 871.2,835.0 871.4,829.5C871.6,824.0 871.8,821.9 872.3,818.4C872.8,814.9 873.4,811.4 874.3,808.4C875.2,805.4 876.2,803.1 877.5,800.6C878.8,798.1 881.2,794.6 882.0,793.4Z" stroke="#161616" stroke-width="2.5" fill="none" stroke-linejoin="round"/>
<path d="M932.9,847.6C935.6,847.6 938.1,847.5 940.9,847.7C943.7,847.9 946.3,848.0 949.6,848.7C952.9,849.4 957.5,850.3 960.7,851.8C963.9,853.2 966.7,855.2 968.8,857.4C970.9,859.6 972.2,862.3 973.3,865.1C974.4,867.9 975.0,869.9 975.4,874.0C975.8,878.1 975.9,884.0 975.9,890.0C975.9,896.0 975.8,904.3 975.7,910.0C975.6,915.7 975.6,919.9 975.3,924.0C975.0,928.1 975.0,931.6 974.1,934.7C973.2,937.8 972.1,940.1 970.2,942.6C968.2,945.1 965.7,947.5 962.4,949.6C959.1,951.7 954.2,953.9 950.6,955.0C947.0,956.1 943.9,956.1 940.9,956.4C937.9,956.7 935.6,956.7 932.9,956.7C930.2,956.7 927.9,956.7 924.9,956.4C921.9,956.1 918.8,956.1 915.2,955.0C911.6,953.9 906.7,951.7 903.4,949.6C900.1,947.5 897.6,945.1 895.6,942.6C893.6,940.1 892.5,937.8 891.7,934.7C890.8,931.6 890.8,928.1 890.5,924.0C890.2,919.9 890.2,915.7 890.1,910.0C890.0,904.3 889.9,896.0 889.9,890.0C889.9,884.0 890.0,878.1 890.4,874.0C890.8,869.9 891.4,867.9 892.5,865.1C893.6,862.3 894.9,859.6 897.0,857.4C899.1,855.2 901.9,853.2 905.1,851.8C908.3,850.3 912.9,849.4 916.2,848.7C919.5,848.0 922.1,847.9 924.9,847.7C927.7,847.5 930.2,847.6 932.9,847.6Z" stroke="#161616" stroke-width="2.4" fill="none" />
<path d="M932.9,851.4C935.5,851.4 938.0,851.3 940.7,851.5C943.3,851.7 945.7,851.8 948.8,852.4C951.9,853.0 956.3,854.0 959.2,855.2C962.0,856.5 964.3,858.1 966.1,859.9C967.9,861.8 969.0,864.0 969.9,866.4C970.9,868.8 971.5,870.4 971.9,874.4C972.3,878.3 972.5,884.1 972.6,890.0C972.7,896.0 972.6,904.3 972.6,909.9C972.6,915.6 972.6,919.8 972.3,923.8C972.1,927.8 972.1,931.1 971.4,933.9C970.6,936.8 969.8,938.7 968.0,940.9C966.3,943.1 964.0,945.4 961.0,947.3C957.9,949.3 953.2,951.4 949.8,952.5C946.4,953.6 943.5,953.5 940.7,953.8C937.8,954.1 935.5,954.1 932.9,954.1C930.3,954.1 928.0,954.1 925.1,953.8C922.3,953.5 919.4,953.6 916.0,952.5C912.6,951.4 907.9,949.3 904.8,947.3C901.8,945.4 899.5,943.1 897.8,940.9C896.0,938.7 895.2,936.8 894.4,933.9C893.7,931.1 893.7,927.8 893.5,923.8C893.2,919.8 893.2,915.6 893.2,909.9C893.2,904.3 893.1,896.0 893.2,890.0C893.3,884.1 893.5,878.3 893.9,874.4C894.3,870.4 894.9,868.8 895.9,866.4C896.8,864.0 897.9,861.8 899.7,859.9C901.5,858.1 903.8,856.5 906.6,855.2C909.5,854.0 913.9,853.0 917.0,852.4C920.1,851.8 922.5,851.7 925.1,851.5C927.8,851.3 930.3,851.4 932.9,851.4Z" stroke="#161616" stroke-width="1.2" fill="none" />
<path d="M919.8,859.3H945.6Q949.4,859.3 949.4,863V868C949.3,869.0 949.4,871.2 948.9,874.0C948.4,876.8 947.6,882.1 946.4,885.0C945.2,887.9 943.1,889.7 941.6,891.2C940.1,892.7 938.8,893.4 937.3,894.0C935.8,894.6 934.4,895.0 932.9,895.0C931.4,895.0 930.0,894.6 928.5,894.0C927.0,893.4 925.7,892.7 924.2,891.2C922.7,889.7 920.6,887.9 919.4,885.0C918.2,882.1 917.4,876.8 916.9,874.0C916.4,871.2 916.5,869.0 916.4,868.0V863Q916.4,859.3 919.8,859.3Z" stroke="#161616" stroke-width="2.2" fill="none" />
<path d="M917.5,866Q932.9,862.4 948.3,866" stroke="#161616" stroke-width="2.0" fill="none" />
<circle cx="905.9" cy="827.8" r="2.9" stroke="#161616" stroke-width="0.8" fill="#161616" />
<circle cx="958.8" cy="827.8" r="2.9" stroke="#161616" stroke-width="0.8" fill="#161616" />
<circle cx="905.9" cy="827.8" r="0.9" stroke="#666" stroke-width="0.1" fill="#666" />
<circle cx="958.8" cy="827.8" r="0.9" stroke="#666" stroke-width="0.1" fill="#666" />
<line x1="905.8" y1="761.9" x2="905.8" y2="835.6" stroke="#161616" stroke-width="1.3" />
<line x1="958.8" y1="761.9" x2="958.8" y2="835.6" stroke="#161616" stroke-width="1.3" />
<line x1="907" y1="765.7" x2="958" y2="765.7" stroke="#161616" stroke-width="1.4" />
<polygon points="906.3,765.7 917.3,762.3 917.3,769.1" fill="#161616"/>
<polygon points="958.3,765.7 947.3,762.3 947.3,769.1" fill="#161616"/>
<text x="932.3" y="759.6" font-size="16.1" text-anchor="middle" fill="#161616" >155</text>
<line x1="833.7" y1="827.9" x2="913.9" y2="827.9" stroke="#161616" stroke-width="1.3" />
<line x1="951.1" y1="827.9" x2="966.6" y2="827.9" stroke="#161616" stroke-width="1.3" />
<line x1="833.7" y1="974.1" x2="1032.2" y2="974.1" stroke="#161616" stroke-width="1.3" />
<line x1="837.7" y1="830" x2="837.7" y2="972" stroke="#161616" stroke-width="1.4" />
<polygon points="837.7,828.6 834.3,839.6 841.1,839.6" fill="#161616"/>
<polygon points="837.7,973.6 834.3,962.6 841.1,962.6" fill="#161616"/>
<text x="832.4" y="900" font-size="16.5" text-anchor="middle" fill="#161616" transform="rotate(-90 832.4 900)" >430</text>
<line x1="984" y1="793.5" x2="1032.6" y2="793.5" stroke="#161616" stroke-width="1.3" />
<line x1="1028.5" y1="796" x2="1028.5" y2="972" stroke="#161616" stroke-width="1.4" />
<polygon points="1028.5,794.2 1025.1,805.2 1031.9,805.2" fill="#161616"/>
<polygon points="1028.5,973.6 1025.1,962.6 1031.9,962.6" fill="#161616"/>
<text x="1024.3" y="887.1" font-size="16.5" text-anchor="middle" fill="#161616" transform="rotate(-90 1024.3 887.1)" >530</text>
<line x1="870.8" y1="930" x2="870.8" y2="1013.2" stroke="#161616" stroke-width="1.3" />
<line x1="994" y1="930" x2="994" y2="1013.2" stroke="#161616" stroke-width="1.3" />
<line x1="872" y1="1009.4" x2="993" y2="1009.4" stroke="#161616" stroke-width="1.4" />
<polygon points="871.3,1009.4 882.3,1006.0 882.3,1012.8" fill="#161616"/>
<polygon points="993.5,1009.4 982.5,1006.0 982.5,1012.8" fill="#161616"/>
<text x="932.8" y="1003.8" font-size="16.1" text-anchor="middle" fill="#161616" >360</text>
</svg>
</body></html>
